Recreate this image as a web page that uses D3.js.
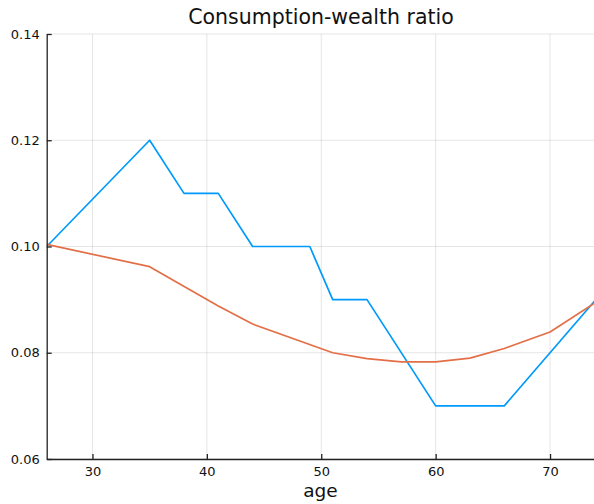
<!DOCTYPE html>
<html>
<head>
<meta charset="utf-8">
<script src="https://cdn.jsdelivr.net/npm/d3@7"></script>
<style>
  html, body { margin: 0; padding: 0; background: #fff; }
  svg { display: block; font-family: "DejaVu Sans", sans-serif; }
</style>
</head>
<body>
<svg id="chart" width="594" height="504"></svg>
<script>
// Consumption-wealth ratio by age, two series
const blueAges   = [26, 35, 38, 41, 44, 49, 51, 54, 60, 66, 74];
const blueValues = [0.100, 0.120, 0.110, 0.110, 0.100, 0.100, 0.090, 0.090, 0.070, 0.070, 0.090];

const orangeAges   = [26, 35, 41, 44, 51, 54, 57, 60, 63, 66, 70, 74];
const orangeValues = [0.1004, 0.0962, 0.0888, 0.0854, 0.0800, 0.0789, 0.0783, 0.0783, 0.0790, 0.0808, 0.0839, 0.0895];

const xTicks = [30, 40, 50, 60, 70];
const yTicks = [0.06, 0.08, 0.10, 0.12, 0.14];

const titleText = "Consumption-wealth ratio";
const xLabel = "age";

const svg = d3.select("#chart");
const plotLeft = 46.7, plotRight = 595.8, plotTop = 34, plotBottom = 459;

const x = d3.scaleLinear().domain([26, 74]).range([plotLeft, plotRight]);
const y = d3.scaleLinear().domain([0.06, 0.14]).range([plotBottom, plotTop]);

// grid
const grid = svg.append("g").attr("stroke", "#000").attr("stroke-opacity", 0.1).attr("stroke-width", 1);
grid.selectAll(".gx").data(xTicks).join("line")
  .attr("x1", d => x(d)).attr("x2", d => x(d)).attr("y1", plotTop).attr("y2", plotBottom);
grid.selectAll(".gy").data(yTicks).join("line")
  .attr("x1", plotLeft).attr("x2", plotRight).attr("y1", d => y(d)).attr("y2", d => y(d));

// series
svg.append("clipPath").attr("id", "plotclip").append("rect")
  .attr("x", plotLeft).attr("y", plotTop - 2).attr("width", plotRight - plotLeft).attr("height", plotBottom - plotTop + 4);

function drawSeries(ages, vals, color) {
  const pts = ages.map((a, i) => [a, vals[i]]);
  svg.append("path")
    .attr("clip-path", "url(#plotclip)")
    .attr("d", d3.line().x(d => x(d[0])).y(d => y(d[1]))(pts))
    .attr("fill", "none").attr("stroke", color).attr("stroke-width", 1.7)
    .attr("stroke-linejoin", "round");
}
drawSeries(blueAges, blueValues, "#009AFA");
drawSeries(orangeAges, orangeValues, "#E36F47");

// axes
const axX = svg.append("g").attr("transform", `translate(0,${plotBottom})`)
  .call(d3.axisBottom(x).tickValues(xTicks).tickSizeInner(-5).tickSizeOuter(0).tickPadding(7.5).tickFormat(d3.format("d")));
const axY = svg.append("g").attr("transform", `translate(${plotLeft},0)`)
  .call(d3.axisLeft(y).tickValues(yTicks).tickSizeInner(-5).tickSizeOuter(0).tickPadding(7).tickFormat(d3.format(".2f")));
[axX, axY].forEach(ax => {
  ax.select(".domain").attr("stroke", "#222").attr("stroke-width", 1.3);
  ax.selectAll(".tick line").attr("stroke", "#222").attr("stroke-width", 1.3);
  ax.selectAll(".tick text").attr("fill", "#111").style("font-size", "13px").style("font-family", "DejaVu Sans, sans-serif");
});

// title and axis label
svg.append("text").attr("x", 321).attr("y", 24).attr("text-anchor", "middle")
  .style("font-size", "20.5px").attr("fill", "#111").text(titleText);
svg.append("text").attr("x", 320.5).attr("y", 497).attr("text-anchor", "middle")
  .style("font-size", "18.5px").attr("fill", "#111").text(xLabel);
</script>
</body>
</html>
